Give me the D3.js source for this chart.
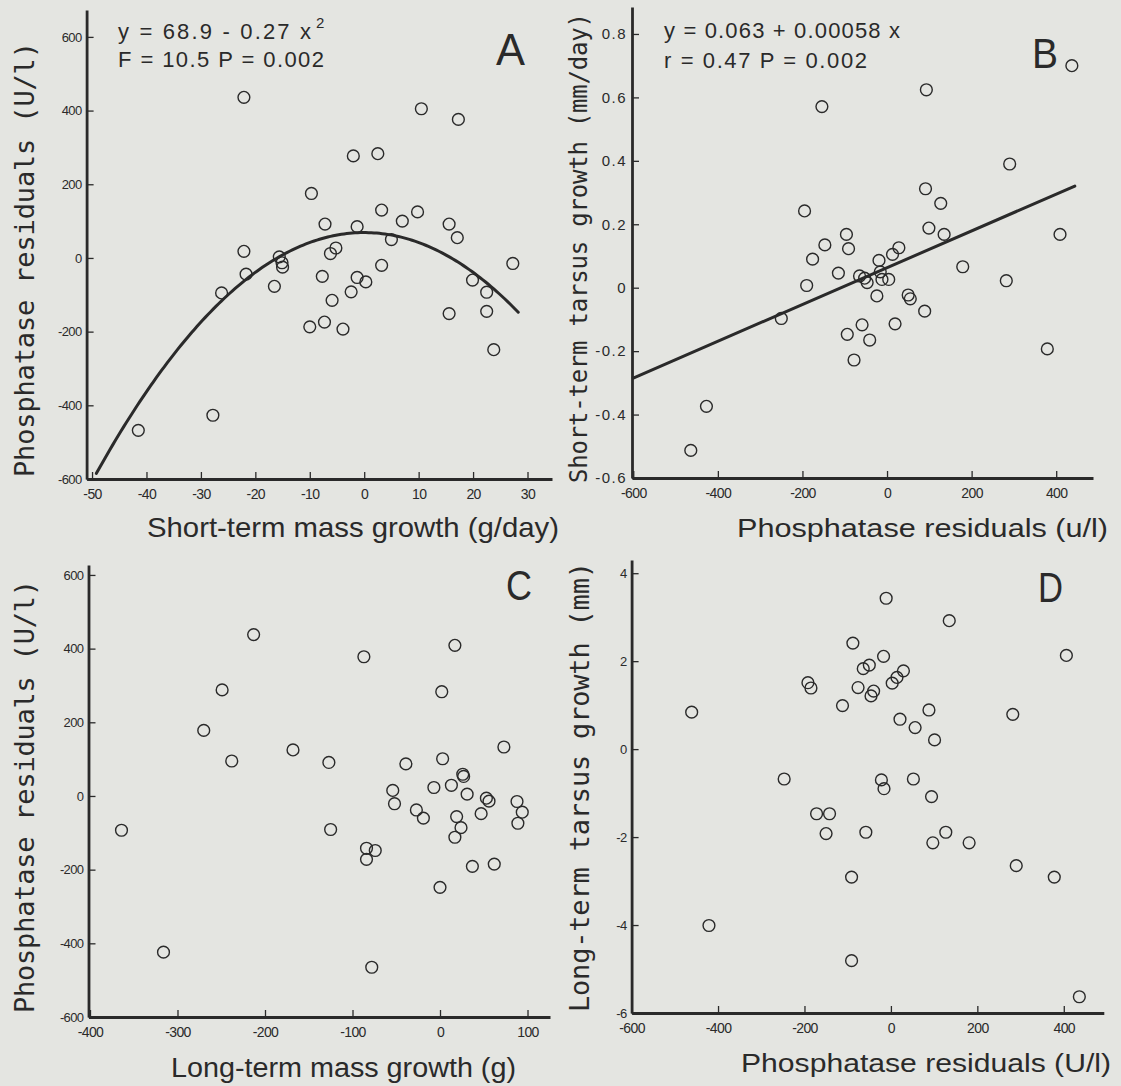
<!DOCTYPE html>
<html>
<head>
<meta charset="utf-8">
<script src="https://cdn.jsdelivr.net/npm/d3@7"></script>
<style>
  html, body { margin: 0; padding: 0; background: #e4e5e1; }
  svg { display: block; }
</style>
</head>
<body>
<div id="chart"></div>
<script>
// ---- data ----
// A: short-term mass growth (g/day) vs phosphatase residuals (U/l)
const panelA = [
  [-22.1, 436], [10.5, 405], [17.3, 376], [-2.0, 277], [2.5, 283], [-9.7, 175],
  [3.2, 130], [9.8, 125], [7.0, 100], [-7.2, 92], [-1.3, 85], [15.6, 92],
  [17.1, 55], [5.0, 50], [-22.1, 18], [-5.2, 27], [-6.2, 12], [-15.6, 3],
  [-15.1, -13], [-15.0, -25], [27.3, -15], [3.2, -20], [-21.7, -44], [-7.7, -50],
  [-1.3, -53], [0.3, -65], [19.9, -60], [-16.5, -77], [-26.2, -95], [-2.4, -92],
  [22.5, -93], [-5.9, -115], [15.6, -151], [22.5, -145], [-10.0, -187], [-7.3, -174],
  [-3.9, -193], [23.8, -249], [-27.8, -427], [-41.5, -468]
];
// B: phosphatase residuals (u/l) vs short-term tarsus growth (mm/day)
const panelB = [
  [437, 0.700], [93, 0.624], [-154, 0.571], [290, 0.390], [91, 0.312], [127, 0.266],
  [-195, 0.242], [99, 0.188], [135, 0.168], [409, 0.168], [-96, 0.168], [-147, 0.135],
  [-91, 0.123], [28, 0.126], [13, 0.105], [-176, 0.090], [-19, 0.086], [179, 0.066],
  [-115, 0.046], [-65, 0.037], [-53, 0.030], [-47, 0.016], [-12, 0.026], [4, 0.026],
  [-16, 0.050], [282, 0.022], [-190, 0.007], [-24, -0.026], [50, -0.023], [55, -0.035],
  [89, -0.074], [-250, -0.097], [19, -0.114], [-59, -0.117], [-94, -0.147], [-41, -0.165],
  [-78, -0.228], [379, -0.193], [-427, -0.374], [-464, -0.513]
];
// C: long-term mass growth (g) vs phosphatase residuals (U/l)
const panelC = [
  [-213, 438], [17, 409], [-87, 378], [-249, 288], [2, 283], [-270, 178],
  [73, 133], [-168, 125], [-238, 95], [-127, 91], [3, 101], [-39, 87],
  [26, 59], [27, 53], [13, 29], [-7, 23], [-54, 15], [31, 5],
  [53, -6], [56, -14], [88, -15], [-52, -21], [-27, -38], [94, -44],
  [47, -48], [-19, -60], [19, -56], [89, -74], [24, -86], [-125, -91],
  [-364, -93], [17, -112], [-84, -142], [-74, -148], [-84, -172], [37, -191],
  [62, -185], [0, -248], [-316, -424], [-78, -465]
];
// D: phosphatase residuals (U/l) vs long-term tarsus growth (mm)
const panelD = [
  [-11, 3.43], [135, 2.92], [-88, 2.41], [-17, 2.11], [406, 2.13], [-50, 1.91],
  [-64, 1.83], [29, 1.78], [14, 1.63], [3, 1.50], [-192, 1.51], [-185, 1.39],
  [-76, 1.40], [-40, 1.32], [-46, 1.21], [-112, 0.99], [88, 0.89], [-461, 0.84],
  [282, 0.79], [21, 0.68], [56, 0.49], [101, 0.21], [-247, -0.68], [-22, -0.70],
  [52, -0.68], [-16, -0.90], [94, -1.08], [-172, -1.47], [-142, -1.47], [-150, -1.92],
  [-58, -1.89], [127, -1.89], [97, -2.13], [181, -2.13], [290, -2.65], [-91, -2.91],
  [378, -2.91], [-421, -4.01], [-91, -4.81], [436, -5.63]
];

// fitted models printed on the panels
const fitA = { c0: 68.9, c2: -0.27, from: -49.2, to: 28.7 };
const fitB = { c0: 0.063, c1: 0.00058, from: -600, to: 444 };

// tick values
const ticksAx = [-50, -40, -30, -20, -10, 0, 10, 20, 30];
const ticksAy = [-600, -400, -200, 0, 200, 400, 600];
const ticksBx = [-600, -400, -200, 0, 200, 400];
const ticksBy = [-0.6, -0.4, -0.2, 0, 0.2, 0.4, 0.6, 0.8];
const ticksCx = [-400, -300, -200, -100, 0, 100];
const ticksCy = [-600, -400, -200, 0, 200, 400, 600];
const ticksDx = [-600, -400, -200, 0, 200, 400];
const ticksDy = [-6, -4, -2, 0, 2, 4];

const ink = '#2a2a2a';
const mono = "'DejaVu Sans Mono', monospace";
const sans = "'Liberation Sans', Arial, sans-serif";

const svg = d3.select('#chart').append('svg')
  .attr('width', 1121)
  .attr('height', 1086)
  .style('background', '#e4e5e1');

function addText(g, str, opt) {
  const t = g.append('text')
    .attr('fill', ink)
    .attr('font-family', opt.family || sans)
    .attr('font-size', opt.size)
    .text(str);
  if (opt.rotate) {
    t.attr('transform', `translate(${opt.x},${opt.y}) rotate(-90)`);
  } else {
    t.attr('x', opt.x).attr('y', opt.y);
  }
  if (opt.len) {
    t.attr('textLength', opt.len)
      .attr('lengthAdjust', opt.adjust || 'spacingAndGlyphs');
  }
  return t;
}

function drawPanel(p) {
  const g = svg.append('g');

  const x = d3.scaleLinear().domain(p.xDomain).range(p.xRange);
  const y = d3.scaleLinear().domain(p.yDomain).range(p.yRange);
  const x0 = p.xRange[0];
  const y0 = p.yRange[0];

  const xAxis = g.append('g')
    .attr('transform', `translate(0,${y0})`)
    .call(d3.axisBottom(x)
      .tickValues(p.xTicks)
      .tickFormat(d => String(d))
      .tickSizeInner(-7)
      .tickSizeOuter(0)
      .tickPadding(10));

  const yAxis = g.append('g')
    .attr('transform', `translate(${x0},0)`)
    .call(d3.axisLeft(y)
      .tickValues(p.yTicks)
      .tickFormat(d => String(d))
      .tickSizeInner(-7)
      .tickSizeOuter(0)
      .tickPadding(5));

  [xAxis, yAxis].forEach(a => {
    a.select('.domain').attr('stroke', ink).attr('stroke-width', 2.8);
    a.selectAll('.tick line').attr('stroke', ink).attr('stroke-width', 1.3);
    a.selectAll('.tick text')
      .attr('fill', ink)
      .attr('font-family', sans);
  });
  xAxis.selectAll('.tick text')
    .attr('font-size', p.xTickSize)
    .attr('letter-spacing', -0.6);
  yAxis.selectAll('.tick text')
    .attr('font-size', p.yTickSize)
    .attr('letter-spacing', p.yTickSpacing || -0.6);

  // fitted curve / line
  if (p.fit) {
    const line = d3.line().x(d => x(d[0])).y(d => y(d[1]));
    g.append('path')
      .datum(p.fit)
      .attr('fill', 'none')
      .attr('stroke', ink)
      .attr('stroke-width', 3)
      .attr('stroke-linecap', 'round')
      .attr('d', line);
  }

  g.append('g').selectAll('circle')
    .data(p.data)
    .join('circle')
    .attr('cx', d => x(d[0]))
    .attr('cy', d => y(d[1]))
    .attr('r', 5.9)
    .attr('fill', 'none')
    .attr('stroke', ink)
    .attr('stroke-width', 1.4);

  // titles
  addText(g, p.xTitle.text, { x: p.xTitle.x, y: p.xTitle.y, size: p.xTitle.size, len: p.xTitle.len });
  addText(g, p.yTitle.text, {
    x: p.yTitle.x, y: p.yTitle.y, size: p.yTitle.size, len: p.yTitle.len,
    family: mono, rotate: true, adjust: 'spacing'
  });

  // panel letter
  addText(g, p.letter.text, { x: p.letter.x, y: p.letter.y, size: p.letter.size, len: p.letter.len });

  (p.notes || []).forEach(n => {
    addText(g, n.text, { x: n.x, y: n.y, size: n.size, len: n.len, adjust: 'spacing' });
  });
}

function curveA() {
  const pts = [];
  for (let v = fitA.from; v <= fitA.to + 1e-9; v += 0.5) {
    pts.push([v, fitA.c0 + fitA.c2 * v * v]);
  }
  return pts;
}

drawPanel({
  data: panelA,
  xDomain: [-51, 34.5], xRange: [86.6, 552],
  yDomain: [-600, 673], yRange: [479, 10],
  xTicks: ticksAx, yTicks: ticksAy,
  xTickSize: 14, yTickSize: 13,
  fit: curveA(),
  xTitle: { text: 'Short-term mass growth (g/day)', x: 147, y: 537, size: 28, len: 412 },
  yTitle: { text: 'Phosphatase residuals (U/l)', x: 34, y: 477, size: 27, len: 435 },
  letter: { text: 'A', x: 496, y: 65, size: 44, len: 29 },
  notes: [
    { text: 'y = 68.9 - 0.27 x', x: 118, y: 39, size: 22, len: 193 },
    { text: '2', x: 316, y: 28, size: 15 },
    { text: 'F = 10.5 P = 0.002', x: 118, y: 67, size: 22, len: 206 }
  ]
});

drawPanel({
  data: panelB,
  xDomain: [-603, 487], xRange: [632, 1093],
  yDomain: [-0.6, 0.885], yRange: [478, 7],
  xTicks: ticksBx, yTicks: ticksBy,
  xTickSize: 14, yTickSize: 15, yTickSpacing: 1.5,
  fit: [fitB.from, fitB.to].map(v => [v, fitB.c0 + fitB.c1 * v]),
  xTitle: { text: 'Phosphatase residuals (u/l)', x: 737, y: 537, size: 26, len: 371 },
  yTitle: { text: 'Short-term tarsus growth (mm/day)', x: 587, y: 483, size: 24, len: 470 },
  letter: { text: 'B', x: 1032, y: 68, size: 43, len: 26 },
  notes: [
    { text: 'y = 0.063 + 0.00058 x', x: 664, y: 38, size: 22, len: 236 },
    { text: 'r = 0.47 P = 0.002', x: 664, y: 68, size: 22, len: 203 }
  ]
});

drawPanel({
  data: panelC,
  xDomain: [-401.7, 125.7], xRange: [88.5, 550],
  yDomain: [-600, 627], yRange: [1017, 565],
  xTicks: ticksCx, yTicks: ticksCy,
  xTickSize: 14, yTickSize: 13,
  xTitle: { text: 'Long-term mass growth (g)', x: 171, y: 1077, size: 27, len: 345 },
  yTitle: { text: 'Phosphatase residuals (U/l)', x: 34, y: 1013, size: 27, len: 433 },
  letter: { text: 'C', x: 506, y: 600, size: 42, len: 26 }
});

drawPanel({
  data: panelD,
  xDomain: [-600, 492.6], xRange: [631.6, 1103.8],
  yDomain: [-6, 4.3], yRange: [1013, 560],
  xTicks: ticksDx, yTicks: ticksDy,
  xTickSize: 14, yTickSize: 13,
  xTitle: { text: 'Phosphatase residuals (U/l)', x: 741, y: 1072, size: 26, len: 370 },
  yTitle: { text: 'Long-term tarsus growth (mm)', x: 589, y: 1012, size: 27, len: 450 },
  letter: { text: 'D', x: 1038, y: 602, size: 42, len: 25 }
});
</script>
</body>
</html>
